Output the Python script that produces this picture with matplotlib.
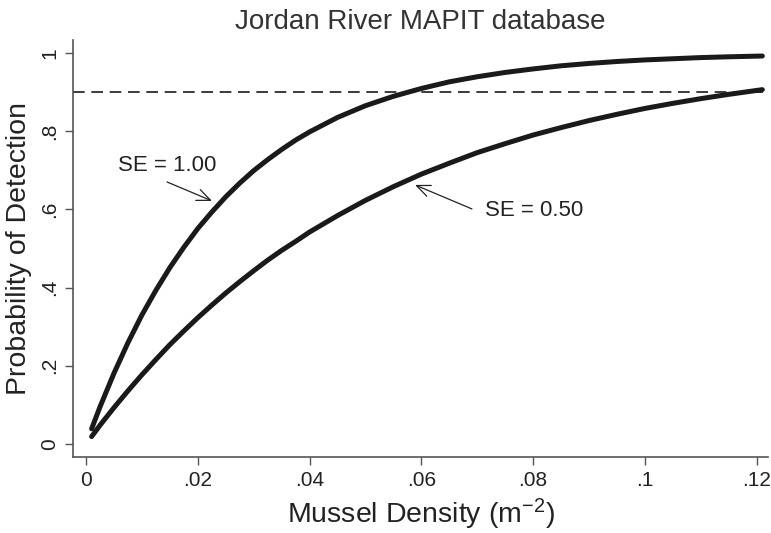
import numpy as np
import matplotlib
matplotlib.use("Agg")
import matplotlib.pyplot as plt

plt.rcParams["font.family"] = ["Liberation Sans", "DejaVu Sans"]
plt.rcParams["mathtext.fontset"] = "custom"
plt.rcParams["mathtext.rm"] = "Liberation Sans"
plt.rcParams["mathtext.default"] = "regular"

# values
density = [0.001, 0.0025, 0.005, 0.0075, 0.01, 0.0125, 0.015, 0.0175, 0.02, 0.0225,
           0.025, 0.0275, 0.03, 0.0325, 0.035, 0.0375, 0.04, 0.045, 0.05, 0.055,
           0.06, 0.065, 0.07, 0.075, 0.08, 0.085, 0.09, 0.095, 0.10, 0.105,
           0.11, 0.115, 0.121]
p_se100 = [0.039, 0.095, 0.181, 0.259, 0.330, 0.393, 0.451, 0.503, 0.551, 0.593,
           0.632, 0.667, 0.699, 0.727, 0.753, 0.777, 0.798, 0.835, 0.865, 0.889,
           0.909, 0.926, 0.939, 0.950, 0.959, 0.967, 0.973, 0.978, 0.982, 0.985,
           0.988, 0.990, 0.992]
p_se050 = [0.019, 0.048, 0.093, 0.136, 0.177, 0.216, 0.254, 0.289, 0.323, 0.355,
           0.386, 0.415, 0.443, 0.470, 0.495, 0.518, 0.542, 0.584, 0.623, 0.658,
           0.690, 0.718, 0.745, 0.768, 0.790, 0.809, 0.827, 0.843, 0.858, 0.871,
           0.883, 0.894, 0.906]
target = 0.9

xticks = [0, 0.02, 0.04, 0.06, 0.08, 0.10, 0.12]
xticklabels = ["0", ".02", ".04", ".06", ".08", ".1", ".12"]
yticks = [0, 0.2, 0.4, 0.6, 0.8, 1.0]
yticklabels = ["0", ".2", ".4", ".6", ".8", "1"]

fig = plt.figure(figsize=(7.71, 5.33), dpi=100)
ax = fig.add_axes([0.0947, 0.1426, 0.9013, 0.7824])

ax.plot(density, p_se100, color="#1a1a1a", lw=3.6, solid_capstyle="round")
ax.plot(density, p_se050, color="#1a1a1a", lw=3.6, solid_capstyle="round")
ax.axhline(target, color="#1a1a1a", lw=1.2, dashes=(7, 4))

ax.set_xlim(-0.00233, 0.122)
ax.set_ylim(-0.0332, 1.033)

ax.set_xticks(xticks)
ax.set_xticklabels(xticklabels)
ax.set_yticks(yticks)
ax.set_yticklabels(yticklabels, rotation=90, va="center")

for side in ["top", "right"]:
    ax.spines[side].set_visible(False)
for side in ["left", "bottom"]:
    ax.spines[side].set_color("#555555")
    ax.spines[side].set_linewidth(1.2)
ax.tick_params(axis="both", length=6, width=1.0, color="#555555",
               labelsize=15, labelcolor="#222222", pad=4)

ax.set_xlabel("Mussel Density (m$^{-2}$)", fontsize=20.5, color="#222222", labelpad=5)
ax.set_ylabel("Probability of Detection", fontsize=20.5, color="#222222", labelpad=6)
ax.set_title("Jordan River MAPIT database", fontsize=20, color="#333333", pad=8)

arrow = dict(arrowstyle="->,head_length=0.7,head_width=0.3", lw=0.9,
             color="#222222", mutation_scale=14, shrinkA=0, shrinkB=0)
ax.annotate("", xy=(0.02254, 0.6215), xytext=(0.01449, 0.670), arrowprops=arrow)
ax.text(0.01449, 0.711, "SE = 1.00", fontsize=16, ha="center", va="center", color="#222222")
ax.annotate("", xy=(0.05886, 0.6624), xytext=(0.06905, 0.601), arrowprops=arrow)
ax.text(0.0714, 0.598, "SE = 0.50", fontsize=16, ha="left", va="center", color="#222222")

fig.savefig("out.png", dpi=100)
